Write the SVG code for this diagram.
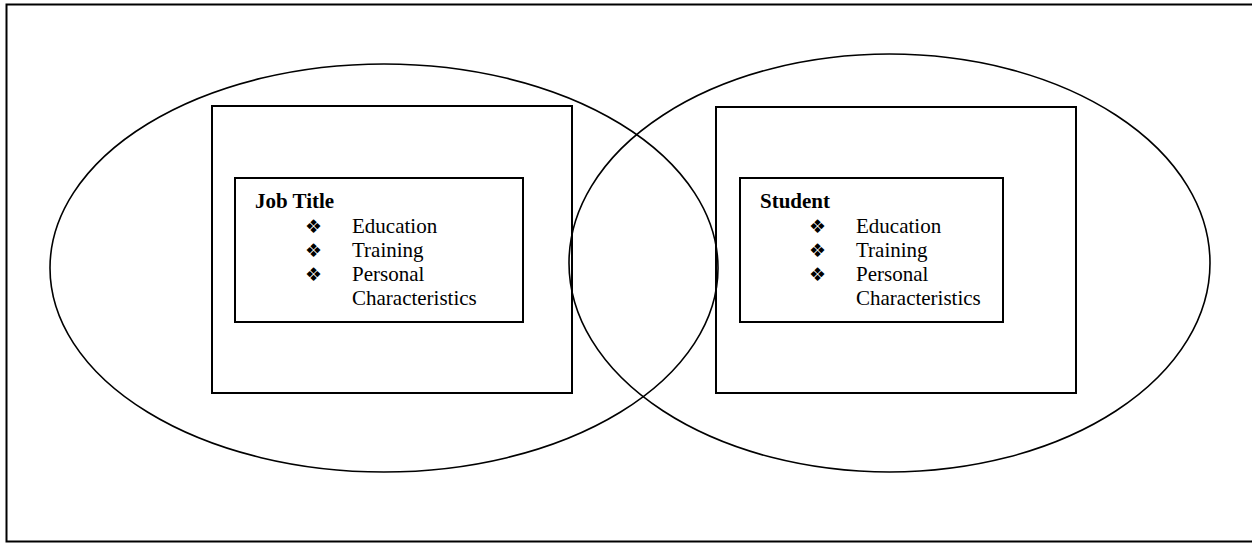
<svg xmlns="http://www.w3.org/2000/svg" width="1252" height="543" viewBox="0 0 1252 543">
<style>
.frame{fill:none;stroke:#000;stroke-width:2}
.ell{fill:none;stroke:#000;stroke-width:1.6}
.obox{fill:none;stroke:#000;stroke-width:2}
.t{font-family:"Liberation Serif","Times New Roman",serif;font-size:21px;fill:#000}
.h{font-weight:bold}
.b{font-family:"DejaVu Sans",sans-serif;font-size:19px;fill:#000}
</style>
<rect class="frame" x="6.5" y="4.5" width="1260" height="537"/>
<g id="ellipses">
<ellipse id="left-ellipse" class="ell" cx="384" cy="268" rx="334" ry="204"/>
<ellipse id="right-ellipse" class="ell" cx="889.5" cy="263" rx="320.5" ry="209"/>
</g>
<g id="left-frame"><rect class="obox" x="212" y="106" width="360" height="287"/></g>
<g id="right-frame"><rect class="obox" x="716" y="107" width="360" height="286"/></g>
<g id="job-title">
<rect class="obox" x="235" y="178" width="288" height="144"/>
<text class="t h" x="255" y="208">Job Title</text>
<text class="b" x="305" y="233">❖</text>
<text class="b" x="305" y="257">❖</text>
<text class="b" x="305" y="281">❖</text>
<text class="t" x="352" y="232.5">Education</text>
<text class="t" x="352" y="256.5">Training</text>
<text class="t" x="352" y="281">Personal</text>
<text class="t" x="352" y="305">Characteristics</text>
</g>
<g id="student">
<rect class="obox" x="740" y="178" width="263" height="144"/>
<text class="t h" x="760" y="208">Student</text>
<text class="b" x="809" y="233">❖</text>
<text class="b" x="809" y="257">❖</text>
<text class="b" x="809" y="281">❖</text>
<text class="t" x="856" y="232.5">Education</text>
<text class="t" x="856" y="256.5">Training</text>
<text class="t" x="856" y="281">Personal</text>
<text class="t" x="856" y="305">Characteristics</text>
</g>
</svg>
